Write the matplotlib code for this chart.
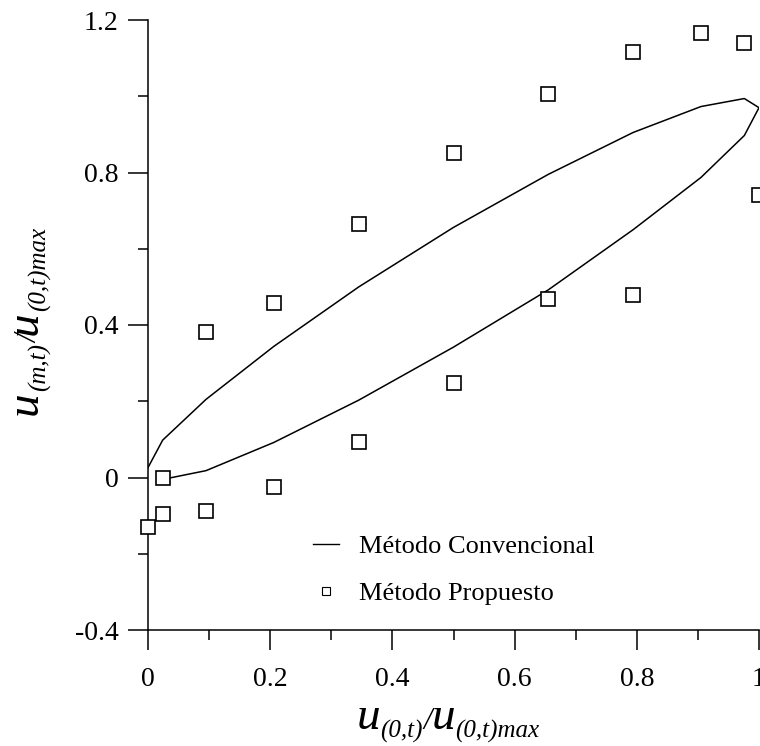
import matplotlib
matplotlib.use("Agg")
import matplotlib.pyplot as plt
from matplotlib.lines import Line2D

# ----------------------------
# Data
# ----------------------------

# conventional method: loop, upper branch out to x=1 then lower branch back
x_conv = [0.0, 0.024, 0.095, 0.206, 0.345, 0.5, 0.655, 0.794, 0.905, 0.976, 1.0,
          0.976, 0.905, 0.794, 0.655, 0.5, 0.345, 0.206, 0.095, 0.024]
y_conv = [0.026, 0.098, 0.205, 0.344, 0.50, 0.656, 0.795, 0.905, 0.973, 0.994, 0.97,
          0.897, 0.787, 0.65, 0.492, 0.342, 0.203, 0.092, 0.018, -0.005]

# proposed method (squares)
x_prop = [0.0, 0.024, 0.024, 0.095, 0.095, 0.206, 0.206, 0.345, 0.345,
          0.5, 0.5, 0.655, 0.655, 0.794, 0.794, 0.905, 0.976, 1.0]
y_prop = [-0.13, 0.0, -0.097, -0.087, 0.381, -0.024, 0.458, 0.093, 0.664,
          0.247, 0.85, 0.467, 1.005, 0.48, 1.115, 1.165, 1.14, 0.74]

x_ticks = [0, 0.2, 0.4, 0.6, 0.8, 1.0]
x_ticklabels = ["0", "0.2", "0.4", "0.6", "0.8", "1"]
y_ticks = [-0.4, 0, 0.4, 0.8, 1.2]
y_ticklabels = ["-0.4", "0", "0.4", "0.8", "1.2"]

labels = ["Método Convencional", "Método Propuesto"]

# axis label pieces: (text, fontsize, baseline drop in px)
xlabel_parts = [("u", 34, 0), ("(0,t)", 18, 9), ("/", 22, 0),
                ("u", 34, 0), ("(0,t)max", 18, 9)]
ylabel_parts = [("u", 34, 0), ("(m,t)", 18, 9), ("/", 22, 0),
                ("u", 34, 0), ("(0,t)max", 18, 9)]

# ----------------------------
# Style
# ----------------------------

plt.rcParams["font.family"] = ["Liberation Serif", "DejaVu Serif"]

W, H = 760, 746
fig = plt.figure(figsize=(W / 100, H / 100), dpi=100)
ax = fig.add_axes([148 / W, 1 - 630 / H, 611 / W, 610 / H])

ax.plot(x_conv, y_conv, color="black", lw=1.1)
ax.plot(x_prop, y_prop, ls="none", marker="s", markersize=10.5,
        markerfacecolor="white", markeredgecolor="black", markeredgewidth=1.2,
        clip_on=False, zorder=3)

ax.set_xlim(0, 1)
ax.set_ylim(-0.4, 1.2)

ax.set_xticks(x_ticks)
ax.set_xticklabels(x_ticklabels)
ax.set_xticks([0.1, 0.3, 0.5, 0.7, 0.9], minor=True)
ax.set_yticks(y_ticks)
ax.set_yticklabels(y_ticklabels)
ax.set_yticks([-0.2, 0.2, 0.6, 1.0], minor=True)

ax.tick_params(which="major", direction="out", length=14.4, width=1.1,
               labelsize=20, pad=7)
ax.tick_params(which="minor", direction="out", length=7.2, width=1.1)
ax.tick_params(axis="x", which="major", pad=12.5)

for side in ["top", "right"]:
    ax.spines[side].set_visible(False)
for side in ["left", "bottom"]:
    ax.spines[side].set_linewidth(1.1)

# ----------------------------
# Legend
# ----------------------------

handles = [
    Line2D([], [], color="black", lw=1.0),
    Line2D([], [], ls="none", marker="s", markersize=6,
           markerfacecolor="white", markeredgecolor="black", markeredgewidth=0.8),
]
ax.legend(handles, labels, loc="center left", bbox_to_anchor=(0.27, 0.0984),
          frameon=False, fontsize=19, handlelength=1.0, handletextpad=0.75,
          labelspacing=0.91, borderpad=0, borderaxespad=0)

# ----------------------------
# Axis labels (built from pieces so the subscripts stay small)
# ----------------------------

renderer = fig.canvas.get_renderer()


def piece_widths(parts):
    widths = []
    for s, size, _ in parts:
        t = fig.text(0, 0, s, fontsize=size, style="italic")
        widths.append(t.get_window_extent(renderer).width)
        t.remove()
    return widths


# x label: centred at x=448 px, main baseline at y=729 px (from top)
widths = piece_widths(xlabel_parts)
pos = 448 - sum(widths) / 2
for (s, size, drop), w in zip(xlabel_parts, widths):
    fig.text(pos / W, 1 - (729 + drop) / H, s, fontsize=size, style="italic",
             ha="left", va="baseline")
    pos += w

# y label: rotated, centred at y=321 px, main baseline at x=37 px
widths = piece_widths(ylabel_parts)
pos = 321 + sum(widths) / 2
for (s, size, drop), w in zip(ylabel_parts, widths):
    fig.text((37 + drop) / W, 1 - pos / H, s, fontsize=size, style="italic",
             rotation=90, rotation_mode="anchor", ha="left", va="baseline")
    pos -= w

fig.savefig("out.png", dpi=100)
